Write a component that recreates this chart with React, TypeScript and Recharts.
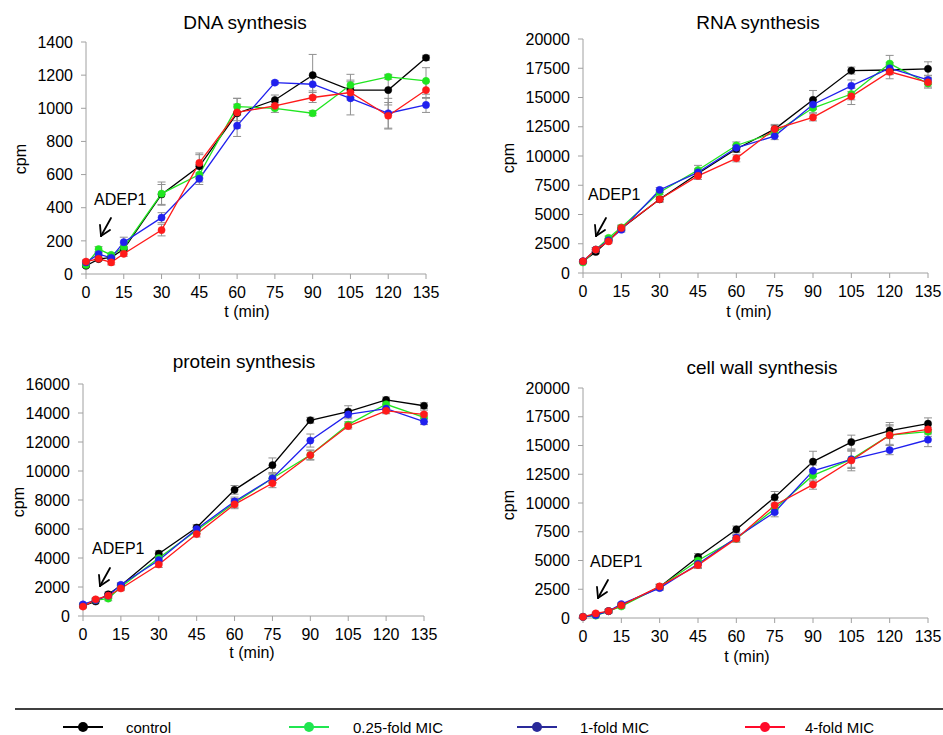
import React from 'react';
import { LineChart, Line, XAxis, YAxis, ErrorBar } from 'recharts';

// time points (min)
const times = [0, 5, 10, 15, 30, 45, 60, 75, 90, 105, 120, 135];
const xTicks = [0, 15, 30, 45, 60, 75, 90, 105, 120, 135];

const seriesNames = ['control', '0.25-fold MIC', '1-fold MIC', '4-fold MIC'];

// DNA synthesis
const dnaControl = [50, 90, 100, 150, 480, 650, 970, 1050, 1200, 1110, 1110, 1305];
const dnaLow = [55, 150, 115, 160, 485, 600, 1010, 1000, 970, 1140, 1190, 1165];
const dnaMid = [70, 120, 98, 192, 340, 575, 895, 1155, 1145, 1060, 970, 1020];
const dnaHigh = [75, 92, 70, 122, 265, 670, 975, 1015, 1065, 1095, 955, 1110];
const dnaErrControl = [10, 10, 10, 15, 60, 70, 90, 30, 125, 60, 90, 15];
const dnaErrLow = [10, 15, 10, 20, 70, 60, 50, 25, 15, 65, 15, 80];
const dnaErrMid = [10, 10, 10, 30, 30, 20, 65, 10, 40, 100, 90, 45];
const dnaErrHigh = [10, 10, 15, 15, 35, 60, 50, 20, 30, 30, 80, 50];
const dnaTicks = [0, 200, 400, 600, 800, 1000, 1200, 1400];

// RNA synthesis
const rnaControl = [1000, 1800, 2800, 3800, 6300, 8500, 10600, 12300, 14800, 17300, 17350, 17450];
const rnaLow = [900, 2000, 3000, 3900, 6900, 8800, 10900, 12000, 14100, 15300, 17900, 16200];
const rnaMid = [1000, 2000, 2800, 3700, 7100, 8600, 10700, 11700, 14400, 16000, 17500, 16500];
const rnaHigh = [1000, 2000, 2700, 3850, 6300, 8300, 9800, 12300, 13300, 15100, 17200, 16300];
const rnaErrControl = [100, 150, 150, 200, 250, 300, 300, 400, 800, 300, 400, 600];
const rnaErrLow = [100, 150, 150, 200, 200, 400, 300, 300, 400, 500, 700, 400];
const rnaErrMid = [100, 150, 150, 200, 200, 300, 300, 300, 400, 500, 500, 400];
const rnaErrHigh = [100, 150, 150, 200, 200, 300, 300, 300, 300, 700, 600, 400];
const rnaTicks = [0, 2500, 5000, 7500, 10000, 12500, 15000, 17500, 20000];

// protein synthesis
const protControl = [700, 1000, 1500, 2100, 4300, 6100, 8700, 10400, 13500, 14100, 14900, 14500];
const protLow = [750, 1100, 1200, 2000, 4000, 5900, 7800, 9500, 11100, 13200, 14600, 13700];
const protMid = [800, 1100, 1400, 2150, 3850, 6000, 7900, 9500, 12100, 13900, 14300, 13400];
const protHigh = [650, 1150, 1400, 1900, 3550, 5650, 7700, 9150, 11100, 13100, 14150, 13900];
const protErrControl = [100, 100, 150, 150, 200, 200, 300, 500, 200, 400, 200, 200];
const protErrLow = [100, 100, 150, 150, 200, 200, 300, 300, 300, 200, 300, 300];
const protErrMid = [100, 100, 150, 150, 200, 200, 300, 300, 450, 300, 300, 200];
const protErrHigh = [100, 100, 150, 150, 200, 200, 300, 300, 350, 200, 200, 300];
const protTicks = [0, 2000, 4000, 6000, 8000, 10000, 12000, 14000, 16000];

// cell wall synthesis
const cwControl = [100, 300, 600, 1100, 2700, 5300, 7700, 10500, 13600, 15300, 16300, 16900];
const cwLow = [100, 200, 600, 1000, 2700, 5000, 6900, 9500, 12400, 13800, 15900, 16200];
const cwMid = [100, 250, 600, 1200, 2600, 4700, 7000, 9200, 12800, 13800, 14600, 15500];
const cwHigh = [100, 400, 600, 1100, 2750, 4600, 6900, 9800, 11600, 13700, 15900, 16400];
const cwErrControl = [100, 100, 150, 150, 200, 300, 300, 500, 900, 600, 700, 500];
const cwErrLow = [100, 100, 150, 150, 200, 300, 300, 400, 500, 800, 800, 400];
const cwErrMid = [100, 100, 150, 150, 200, 300, 300, 400, 500, 700, 400, 600];
const cwErrHigh = [100, 100, 150, 150, 200, 300, 300, 400, 400, 900, 900, 400];
const cwTicks = rnaTicks;

const lineColors = ['#000000', '#20e620', '#2020ee', '#ff1a1a'];
const legendColors = ['#000000', '#20e650', '#2a2a9a', '#ff0a2a'];
const FONT = '"Liberation Sans", Arial, sans-serif';
const AXIS = '#a0a0a0';

function buildRows(vals: number[][], errs: number[][]) {
  return times.map((t, i) => ({
    t,
    s0: vals[0][i], s1: vals[1][i], s2: vals[2][i], s3: vals[3][i],
    e0: errs[0][i], e1: errs[1][i], e2: errs[2][i], e3: errs[3][i],
  }));
}

type PanelProps = {
  left: number; top: number; width: number; height: number;
  yWidth: number; margin: { top: number; right: number; bottom: number; left: number };
  rows: any[]; yTicks: number[];
};

function Panel(p: PanelProps) {
  const yMax = p.yTicks[p.yTicks.length - 1];
  return (
    <div style={{ position: 'absolute', left: p.left, top: p.top }}>
      <LineChart width={p.width} height={p.height} data={p.rows} margin={p.margin}>
        <XAxis
          dataKey="t" type="number" domain={[0, 135]} ticks={xTicks} interval={0}
          height={30} stroke={AXIS} tickSize={5} tickMargin={8}
          tick={{ fill: '#000', fontSize: 16, fontFamily: FONT }}
        />
        <YAxis
          type="number" domain={[0, yMax]} ticks={p.yTicks} interval={0}
          width={p.yWidth} stroke={AXIS} tickSize={5} tickMargin={8}
          tick={{ fill: '#000', fontSize: 16, fontFamily: FONT }}
        />
        {[0, 1, 2, 3].map((k) => (
          <Line
            key={k}
            dataKey={'s' + k}
            name={seriesNames[k]}
            stroke={lineColors[k]}
            strokeWidth={1.3}
            dot={{ r: 3.6, fill: lineColors[k], stroke: lineColors[k], strokeWidth: 0.5 }}
            isAnimationActive={false}
          >
            <ErrorBar dataKey={'e' + k} width={4} stroke="#909090" strokeWidth={1} direction="y" />
          </Line>
        ))}
      </LineChart>
    </div>
  );
}

function Arrow({ tx, ty }: { tx: number; ty: number }) {
  return (
    <g stroke="#000" strokeWidth={1.8} fill="none" strokeLinecap="round">
      <line x1={tx + 10} y1={ty - 18} x2={tx} y2={ty} />
      <line x1={tx - 1} y1={ty - 11} x2={tx} y2={ty} />
      <line x1={tx + 9} y1={ty - 6} x2={tx} y2={ty} />
    </g>
  );
}

export default function App() {
  const dnaRows = buildRows([dnaControl, dnaLow, dnaMid, dnaHigh], [dnaErrControl, dnaErrLow, dnaErrMid, dnaErrHigh]);
  const rnaRows = buildRows([rnaControl, rnaLow, rnaMid, rnaHigh], [rnaErrControl, rnaErrLow, rnaErrMid, rnaErrHigh]);
  const protRows = buildRows([protControl, protLow, protMid, protHigh], [protErrControl, protErrLow, protErrMid, protErrHigh]);
  const cwRows = buildRows([cwControl, cwLow, cwMid, cwHigh], [cwErrControl, cwErrLow, cwErrMid, cwErrHigh]);

  const legendItems = [
    { cx: 83, tx: 126 },
    { cx: 309, tx: 353 },
    { cx: 537, tx: 580 },
    { cx: 765, tx: 805 },
  ];

  return (
    <div style={{ position: 'absolute', left: 0, top: 0, width: 943, height: 735, background: '#fff', fontFamily: FONT, overflow: 'hidden' }}>
      <Panel left={0} top={0} width={470} height={320} yWidth={86}
        margin={{ top: 42, right: 44, bottom: 16, left: 0 }} rows={dnaRows} yTicks={dnaTicks} />
      <Panel left={470} top={0} width={473} height={320} yWidth={113}
        margin={{ top: 39, right: 15, bottom: 17, left: 0 }} rows={rnaRows} yTicks={rnaTicks} />
      <Panel left={0} top={320} width={470} height={340} yWidth={83}
        margin={{ top: 64, right: 46, bottom: 14, left: 0 }} rows={protRows} yTicks={protTicks} />
      <Panel left={470} top={320} width={473} height={340} yWidth={113}
        margin={{ top: 68, right: 15, bottom: 12, left: 0 }} rows={cwRows} yTicks={cwTicks} />

      <svg width={943} height={735} style={{ position: 'absolute', left: 0, top: 0, pointerEvents: 'none' }}
        fontFamily={FONT}>
        {/* titles */}
        <text x={245} y={29} fontSize={19} textAnchor="middle">DNA synthesis</text>
        <text x={758} y={29} fontSize={19} textAnchor="middle">RNA synthesis</text>
        <text x={244} y={368} fontSize={19} textAnchor="middle">protein synthesis</text>
        <text x={762} y={374} fontSize={19} textAnchor="middle">cell wall synthesis</text>

        {/* y axis labels */}
        <text x={20} y={159} fontSize={16} textAnchor="middle" dominantBaseline="central" transform="rotate(-90 20 159)">cpm</text>
        <text x={508} y={158} fontSize={16} textAnchor="middle" dominantBaseline="central" transform="rotate(-90 508 158)">cpm</text>
        <text x={18} y={502} fontSize={16} textAnchor="middle" dominantBaseline="central" transform="rotate(-90 18 502)">cpm</text>
        <text x={508} y={505} fontSize={16} textAnchor="middle" dominantBaseline="central" transform="rotate(-90 508 505)">cpm</text>

        {/* x axis labels */}
        <text x={247} y={317} fontSize={16} textAnchor="middle">t (min)</text>
        <text x={749} y={317} fontSize={16} textAnchor="middle">t (min)</text>
        <text x={252} y={658} fontSize={16} textAnchor="middle">t (min)</text>
        <text x={747} y={662} fontSize={16} textAnchor="middle">t (min)</text>

        {/* ADEP1 annotations */}
        <text x={94} y={205} fontSize={16}>ADEP1</text>
        <Arrow tx={101} ty={236} />
        <text x={588} y={200} fontSize={16}>ADEP1</text>
        <Arrow tx={596} ty={236} />
        <text x={92} y={554} fontSize={16}>ADEP1</text>
        <Arrow tx={100} ty={586} />
        <text x={590} y={567} fontSize={16}>ADEP1</text>
        <Arrow tx={598} ty={598} />

        {/* legend */}
        <line x1={15} y1={709} x2={943} y2={709} stroke="#000" strokeWidth={1.5} />
        {legendItems.map((it, i) => (
          <g key={i}>
            <line x1={it.cx - 20} y1={727} x2={it.cx + 20} y2={727} stroke={legendColors[i]} strokeWidth={1.8} />
            <circle cx={it.cx} cy={727} r={5} fill={legendColors[i]} />
            <text x={it.tx} y={733} fontSize={15}>{seriesNames[i]}</text>
          </g>
        ))}
      </svg>
    </div>
  );
}
